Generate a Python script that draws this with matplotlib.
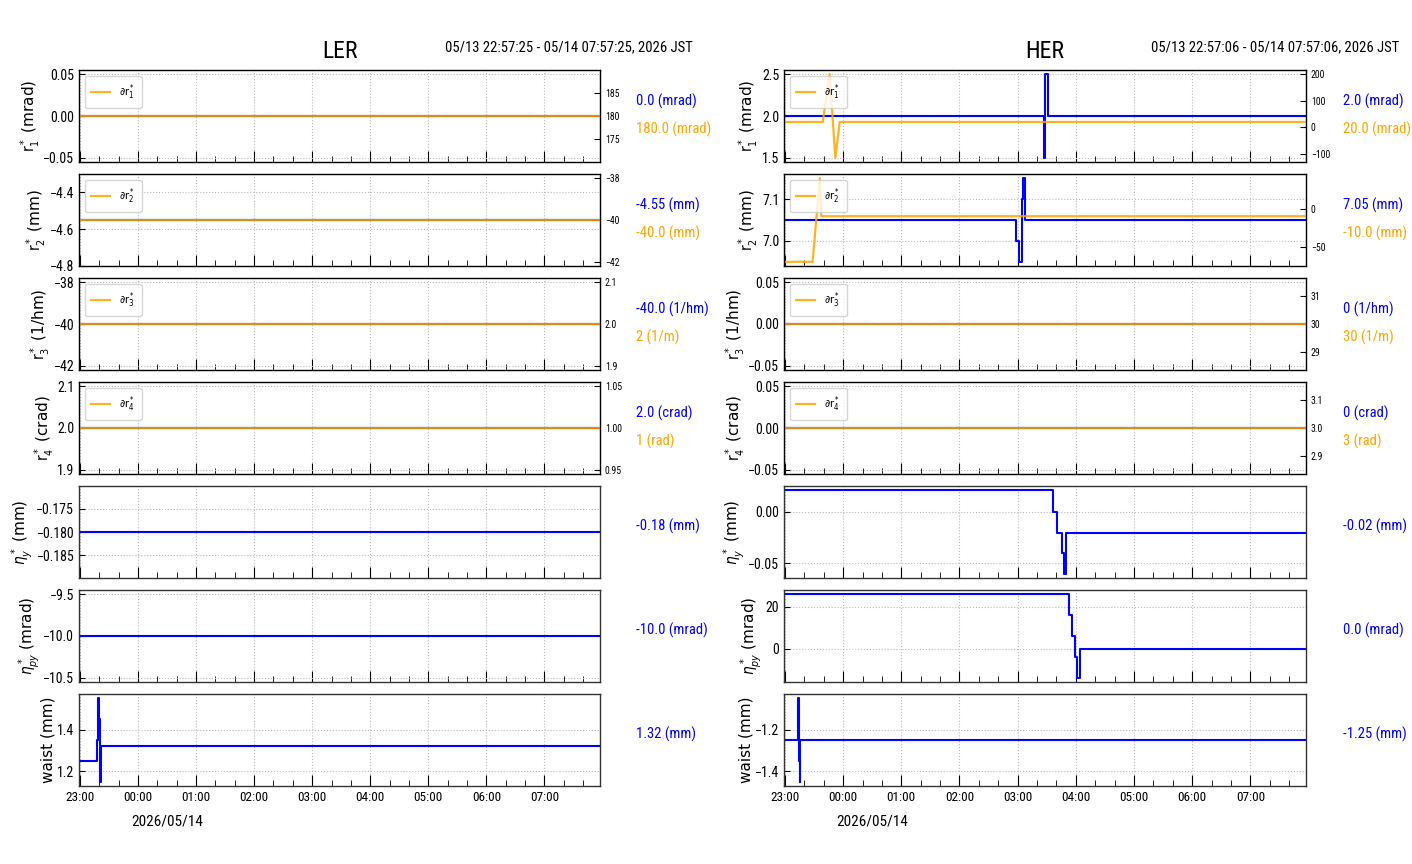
import matplotlib
matplotlib.use('Agg')
import matplotlib.pyplot as plt
import matplotlib.dates as mdates
from matplotlib import font_manager
import pandas as pd

# pick a narrow face for numbers and annotations
available = {f.name for f in font_manager.fontManager.ttflist}
narrow = 'DejaVu Sans'
for name in ['Liberation Sans Narrow', 'Roboto Condensed', 'Open Sans Condensed', 'DejaVu Sans Condensed']:
    if name in available:
        narrow = name
        break

plt.rcParams['font.family'] = [narrow, 'DejaVu Sans']
plt.rcParams['font.stretch'] = 'condensed'

T0 = '2026-05-13 22:59:00'
T1 = '2026-05-14 07:57:25'

# ---- LER data ----
ler_const_time = [T0, T1]
ler_r1 = [0.0, 0.0]
ler_dr1 = [180.0, 180.0]
ler_r2 = [-4.55, -4.55]
ler_dr2 = [-40.0, -40.0]
ler_r3 = [-40.0, -40.0]
ler_dr3 = [2.0, 2.0]
ler_r4 = [2.0, 2.0]
ler_dr4 = [1.0, 1.0]
ler_ny = [-0.18, -0.18]
ler_npy = [-10.0, -10.0]
ler_waist_time = [T0, '2026-05-13 23:18:00', '2026-05-13 23:18:30', '2026-05-13 23:19:00',
                  '2026-05-13 23:20:00', '2026-05-13 23:21:00', '2026-05-13 23:21:30', T1]
ler_waist = [1.25, 1.35, 1.45, 1.55, 1.45, 1.15, 1.32, 1.32]

# ---- HER data ----
her_const_time = [T0, T1]
her_r1_time = [T0, '2026-05-14 03:27:00', '2026-05-14 03:28:00', '2026-05-14 03:31:00', T1]
her_r1 = [2.0, 1.5, 2.5, 2.0, 2.0]
her_dr1_time = [T0, '2026-05-13 23:39:00', '2026-05-13 23:46:00', '2026-05-13 23:52:00',
                '2026-05-13 23:56:30', T1]
her_dr1 = [20.0, 20.0, 200.0, -115.0, 20.0, 20.0]
her_r2_time = [T0, '2026-05-14 02:58:00', '2026-05-14 03:01:00', '2026-05-14 03:04:00',
               '2026-05-14 03:06:00', '2026-05-14 03:08:00', T1]
her_r2 = [7.05, 7.00, 6.95, 7.10, 7.15, 7.05, 7.05]
her_dr2_time = [T0, '2026-05-13 23:28:30', '2026-05-13 23:36:00', '2026-05-13 23:37:30', T1]
her_dr2 = [-70.0, -70.0, 40.0, -10.0, -10.0]
her_r3 = [0.0, 0.0]
her_dr3 = [30.0, 30.0]
her_r4 = [0.0, 0.0]
her_dr4 = [3.0, 3.0]
her_ny_time = [T0, '2026-05-14 03:36:00', '2026-05-14 03:41:00', '2026-05-14 03:46:00',
               '2026-05-14 03:48:00', '2026-05-14 03:50:00', T1]
her_ny = [0.021, 0.0, -0.02, -0.04, -0.06, -0.02, -0.02]
her_npy_time = [T0, '2026-05-14 03:53:00', '2026-05-14 03:56:00', '2026-05-14 03:59:00',
                '2026-05-14 04:01:00', '2026-05-14 04:04:00', T1]
her_npy = [26.0, 16.0, 6.0, -4.0, -14.0, 0.0, 0.0]
her_waist_time = [T0, '2026-05-13 23:13:00', '2026-05-13 23:13:30', '2026-05-13 23:14:30',
                  '2026-05-13 23:15:00', '2026-05-13 23:15:30', T1]
her_waist = [-1.25, -1.15, -1.05, -1.35, -1.45, -1.25, -1.25]

ylabels = [r'$\mathrm{r}_1^*$ (mrad)', r'$\mathrm{r}_2^*$ (mm)', r'$\mathrm{r}_3^*$ (1/hm)',
           r'$\mathrm{r}_4^*$ (crad)', r'$\eta_y^*$ (mm)', r'$\eta_{py}^*$ (mrad)', 'waist (mm)']
legend_labels = [r'$\partial \mathrm{r}_1^*$', r'$\partial \mathrm{r}_2^*$',
                 r'$\partial \mathrm{r}_3^*$', r'$\partial \mathrm{r}_4^*$']

ler_rows = [
    (ler_const_time, ler_r1, ler_const_time, ler_dr1, '0.0 (mrad)', '180.0 (mrad)'),
    (ler_const_time, ler_r2, ler_const_time, ler_dr2, '-4.55 (mm)', '-40.0 (mm)'),
    (ler_const_time, ler_r3, ler_const_time, ler_dr3, '-40.0 (1/hm)', '2 (1/m)'),
    (ler_const_time, ler_r4, ler_const_time, ler_dr4, '2.0 (crad)', '1 (rad)'),
    (ler_const_time, ler_ny, None, None, '-0.18 (mm)', None),
    (ler_const_time, ler_npy, None, None, '-10.0 (mrad)', None),
    (ler_waist_time, ler_waist, None, None, '1.32 (mm)', None),
]
her_rows = [
    (her_r1_time, her_r1, her_dr1_time, her_dr1, '2.0 (mrad)', '20.0 (mrad)'),
    (her_r2_time, her_r2, her_dr2_time, her_dr2, '7.05 (mm)', '-10.0 (mm)'),
    (her_const_time, her_r3, her_const_time, her_dr3, '0 (1/hm)', '30 (1/m)'),
    (her_const_time, her_r4, her_const_time, her_dr4, '0 (crad)', '3 (rad)'),
    (her_ny_time, her_ny, None, None, '-0.02 (mm)', None),
    (her_npy_time, her_npy, None, None, '0.0 (mrad)', None),
    (her_waist_time, her_waist, None, None, '-1.25 (mm)', None),
]

fig = plt.figure(figsize=(14.12, 8.64), dpi=100)
W, H = 1412.0, 864.0


def style_axis(ax):
    ax.tick_params(axis='both', which='both', direction='in')
    ax.tick_params(axis='x', which='major', length=8, labelsize=9.5)
    ax.tick_params(axis='x', which='minor', length=4)
    ax.tick_params(axis='y', which='major', length=4, labelsize=10)
    ax.grid(True, which='major', linestyle=':', color='#bbbbbb', linewidth=0.8)
    for s in ax.spines.values():
        s.set_color('#333333')
        s.set_linewidth(1.0)


def draw_column(rows, left_px, width_px, name, span_text):
    axes = []
    for i, (t, y, t2, y2, txt1, txt2) in enumerate(rows):
        top = 70 + 104 * i
        ax = fig.add_axes([left_px / W, 1 - (top + 92) / H, width_px / W, 92 / H])
        ax.plot(pd.to_datetime(t), y, color='blue', lw=1.5, drawstyle='steps-post')
        ax.set_xlim(pd.Timestamp(T0), pd.Timestamp(T1))
        ax.xaxis.set_major_locator(mdates.HourLocator())
        ax.xaxis.set_minor_locator(mdates.MinuteLocator(byminute=[20, 40]))
        ax.xaxis.set_major_formatter(mdates.DateFormatter('%H:%M'))
        style_axis(ax)
        ax.set_ylabel(ylabels[i], family='DejaVu Sans', fontstretch='normal', fontsize=11,
                      labelpad=1)
        if i < len(rows) - 1:
            ax.tick_params(axis='x', labelbottom=False)
        if t2 is not None:
            ax2 = ax.twinx()
            ax2.plot(pd.to_datetime(t2), y2, color='orange', lw=1.6, alpha=0.85,
                     label=legend_labels[i])
            ax2.set_xlim(pd.Timestamp(T0), pd.Timestamp(T1))
            ax2.tick_params(axis='y', direction='in', length=4, labelsize=7)
            ax2.legend(loc='upper left', fontsize=8, handlelength=1.7,
                       borderpad=0.6, edgecolor='#cccccc')
            ax.text(1.07, 0.66, txt1, transform=ax.transAxes, color='blue',
                    fontsize=10.5, va='center', ha='left')
            ax.text(1.07, 0.36, txt2, transform=ax.transAxes, color='orange',
                    fontsize=10.5, va='center', ha='left')
        else:
            ax.text(1.07, 0.565, txt1, transform=ax.transAxes, color='blue',
                    fontsize=10.5, va='center', ha='left')
        axes.append(ax)
    cx = (left_px + width_px / 2) / W
    fig.text(cx, 1 - 52 / H, name, fontsize=17, ha='center', va='center')
    fig.text((left_px + width_px + 93) / W, 1 - 47 / H, span_text, fontsize=10.5,
             ha='right', va='center')
    fig.text((left_px + 88) / W, 1 - 822 / H, '2026/05/14', fontsize=11,
             ha='center', va='center')
    return axes


draw_column(ler_rows, 79, 521, 'LER', '05/13 22:57:25 - 05/14 07:57:25, 2026 JST')
draw_column(her_rows, 784, 522, 'HER', '05/13 22:57:06 - 05/14 07:57:06, 2026 JST')

fig.savefig('out.png', dpi=100)
